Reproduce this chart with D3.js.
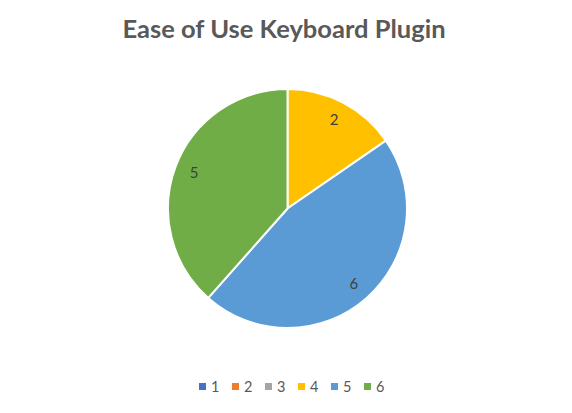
<!DOCTYPE html>
<html>
<head>
<meta charset="utf-8">
<script src="https://cdn.jsdelivr.net/npm/d3@7"></script>
<style>
  body { margin: 0; background: #fff; }
  text { font-family: Lato, "Open Sans", sans-serif; }
</style>
</head>
<body>
<div id="chart"></div>
<script>
// Chart data
const categories = ["1", "2", "3", "4", "5", "6"];
const values = [0, 0, 0, 2, 6, 5];
const colors = ["#4472c4", "#ed7d31", "#a5a5a5", "#ffc000", "#5b9bd5", "#70ad47"];
const title = "Ease of Use Keyboard Plugin";

const width = 572;
const height = 413;
const cx = 287.5;
const cy = 208.5;
const radius = 119.5;

const svg = d3
  .select("#chart")
  .append("svg")
  .attr("width", width)
  .attr("height", height);

// Title
svg
  .append("text")
  .attr("x", 284)
  .attr("y", 38)
  .attr("text-anchor", "middle")
  .style("font-size", "25.5px")
  .style("font-weight", "bold")
  .style("fill", "#595959")
  .text(title);

const color = d3.scaleOrdinal().domain(categories).range(colors);

const pie = d3
  .pie()
  .sort(null)
  .value((d, i) => values[i]);

const arcs = pie(categories);

const arc = d3.arc().innerRadius(0).outerRadius(radius);
const labelArc = d3.arc().innerRadius(100).outerRadius(100);

const g = svg.append("g").attr("transform", `translate(${cx}, ${cy})`);

g.selectAll("path")
  .data(arcs.filter((d) => d.value > 0))
  .enter()
  .append("path")
  .attr("d", arc)
  .style("fill", (d) => color(d.data))
  .style("stroke", "#fff")
  .style("stroke-width", 2);

// Data labels
g.selectAll(".label")
  .data(arcs.filter((d) => d.value > 0))
  .enter()
  .append("text")
  .attr("class", "label")
  .attr("transform", (d) => `translate(${labelArc.centroid(d)})`)
  .attr("text-anchor", "middle")
  .attr("dy", "0.35em")
  .style("font-size", "15px")
  .style("fill", "#404040")
  .text((d) => d.value);

// Legend
const legendX = d3.scaleBand().domain(categories).range([199, 397]);

const legendItems = svg
  .selectAll(".legend-item")
  .data(categories)
  .enter()
  .append("g")
  .attr("class", "legend-item")
  .attr("transform", (d) => `translate(${legendX(d)}, 383)`);

legendItems
  .append("rect")
  .attr("width", 7)
  .attr("height", 7)
  .style("fill", (d) => color(d));

legendItems
  .append("text")
  .attr("x", 12)
  .attr("y", 8.5)
  .style("font-size", "14.5px")
  .style("fill", "#595959")
  .text((d) => d);
</script>
</body>
</html>
